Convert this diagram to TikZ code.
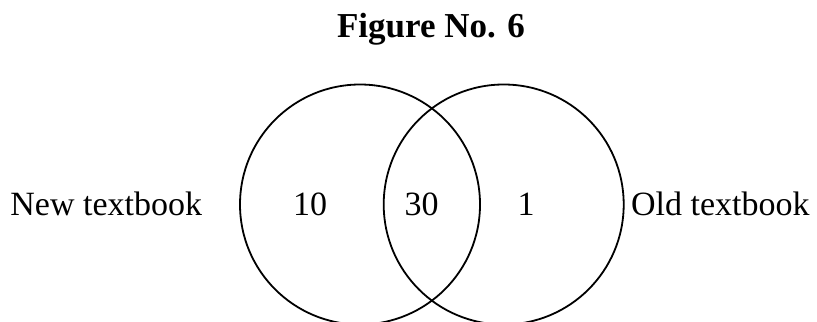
\documentclass[tikz,border=0pt]{standalone}
\usepackage{fontspec}
\setmainfont{Liberation Serif}
\usepackage{tikz}
\usetikzlibrary{positioning}

\begin{document}
\begin{tikzpicture}[x=0.5pt, y=-0.5pt,
            vset/.style={draw, circle, line width=0.9pt,
                            minimum size=120pt, inner sep=0pt},
            every node/.style={font=\fontsize{17pt}{20pt}\selectfont},
        ]
            \useasboundingbox (0,0) rectangle (817,321);
            \node[anchor=base, font=\fontsize{17.5pt}{20pt}\selectfont\bfseries] (title) at (431,37.3) {Figure No. 6};
            \node[vset] (newset) at (360,204.5) {};
            \node[vset] (oldset) at (503.7,204.5) {};
            \node[anchor=base west, inner sep=0pt] (newlabel) at (10,215.5) {New textbook};
            \node[anchor=base west, inner sep=0pt] (oldlabel) at (630.7,215.5) {Old textbook};
            \node[anchor=base] (onlynew) at (310,215.7) {10};
            \node[anchor=base] (both)    at (421.7,215.7) {30};
            \node[anchor=base] (onlyold) at (526,215.7) {1};
        \end{tikzpicture}
\end{document}
